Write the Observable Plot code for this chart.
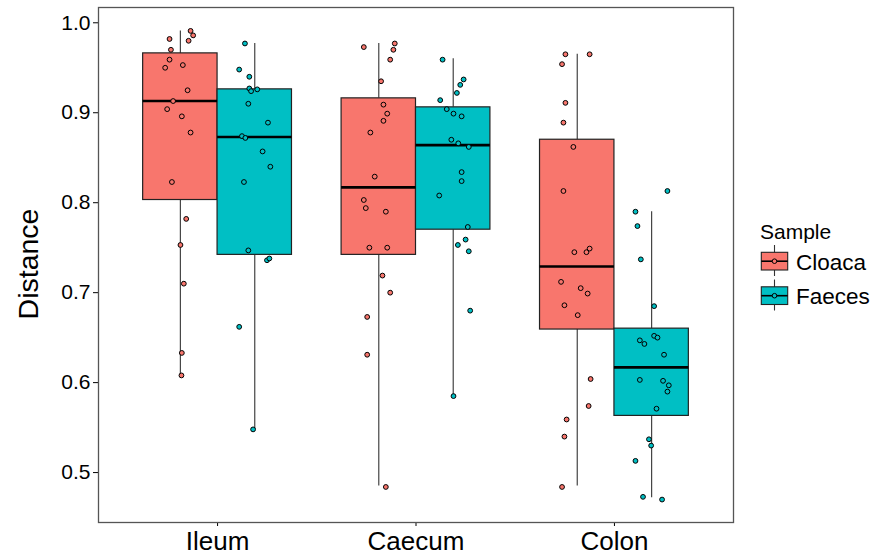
<!DOCTYPE html>
<html>
<head>
<meta charset="utf-8">
<script src="https://cdn.jsdelivr.net/npm/d3@7"></script>
<script src="https://cdn.jsdelivr.net/npm/@observablehq/plot@0.6"></script>
<style>
  html, body { margin: 0; padding: 0; background: #fff; }
  #wrap { position: relative; width: 874px; height: 559px; font-family: "Liberation Sans", Arial, sans-serif; }
  #legend { position: absolute; left: 740px; top: 210px; }
</style>
</head>
<body>
<div id="wrap">
  <div id="chart"></div>
  <svg id="legend" width="134" height="110" font-family="Liberation Sans, Arial, sans-serif"></svg>
</div>
<script>
// ---- data ----
const categories = ["Ileum", "Caecum", "Colon"];
const samples = ["Cloaca", "Faeces"];
const sampleColors = ["#F8766D", "#00BFC4"];
const yTicks = [0.5, 0.6, 0.7, 0.8, 0.9, 1.0];

// box statistics (one entry per category x sample)
const boxCategory = ["Ileum", "Ileum", "Caecum", "Caecum", "Colon", "Colon"];
const boxSample   = ["Cloaca", "Faeces", "Cloaca", "Faeces", "Cloaca", "Faeces"];
const boxLow      = [0.609, 0.548, 0.485, 0.585, 0.485, 0.472];
const boxQ1       = [0.803, 0.742, 0.742, 0.770, 0.659, 0.563];
const boxMedian   = [0.913, 0.873, 0.817, 0.864, 0.729, 0.617];
const boxQ3       = [0.966, 0.926, 0.916, 0.906, 0.870, 0.660];
const boxHigh     = [0.991, 0.977, 0.977, 0.960, 0.965, 0.790];

// jittered points: values and horizontal offsets (category units from category centre)
const ileumCloacaY = [0.982, 0.991, 0.986, 0.980, 0.970, 0.959, 0.950, 0.953, 0.925, 0.913, 0.904, 0.896, 0.878, 0.823, 0.782, 0.753, 0.710, 0.633, 0.608];
const ileumCloacaX = [-0.242, -0.136, -0.123, -0.146, -0.235, -0.242, -0.264, -0.175, -0.151, -0.224, -0.254, -0.180, -0.136, -0.230, -0.158, -0.187, -0.170, -0.180, -0.182];
const ileumFaecesY = [0.977, 0.948, 0.940, 0.927, 0.924, 0.926, 0.910, 0.889, 0.874, 0.872, 0.857, 0.840, 0.823, 0.747, 0.736, 0.738, 0.662, 0.548];
const ileumFaecesX = [0.138, 0.109, 0.160, 0.160, 0.169, 0.200, 0.155, 0.254, 0.123, 0.140, 0.227, 0.266, 0.133, 0.155, 0.249, 0.261, 0.109, 0.179];
const caecumCloacaY = [0.973, 0.977, 0.970, 0.959, 0.935, 0.909, 0.899, 0.891, 0.878, 0.829, 0.803, 0.794, 0.790, 0.750, 0.750, 0.719, 0.700, 0.673, 0.631, 0.484];
const caecumCloacaX = [-0.263, -0.107, -0.114, -0.130, -0.176, -0.164, -0.145, -0.164, -0.230, -0.208, -0.263, -0.253, -0.152, -0.235, -0.145, -0.169, -0.130, -0.246, -0.246, -0.152];
const caecumFaecesY = [0.959, 0.937, 0.931, 0.922, 0.914, 0.904, 0.899, 0.896, 0.870, 0.866, 0.862, 0.834, 0.824, 0.808, 0.773, 0.759, 0.753, 0.746, 0.680, 0.585];
const caecumFaecesX = [0.134, 0.240, 0.223, 0.206, 0.122, 0.155, 0.189, 0.230, 0.178, 0.213, 0.266, 0.230, 0.230, 0.117, 0.261, 0.250, 0.211, 0.266, 0.273, 0.189];
const colonCloacaY = [0.965, 0.965, 0.954, 0.911, 0.889, 0.862, 0.813, 0.745, 0.745, 0.749, 0.712, 0.705, 0.699, 0.686, 0.675, 0.604, 0.574, 0.559, 0.540, 0.484];
const colonCloacaX = [-0.247, -0.125, -0.264, -0.247, -0.257, -0.207, -0.257, -0.202, -0.141, -0.125, -0.269, -0.170, -0.135, -0.252, -0.185, -0.120, -0.130, -0.241, -0.252, -0.264];
const colonFaecesY = [0.813, 0.790, 0.774, 0.737, 0.685, 0.652, 0.650, 0.647, 0.643, 0.631, 0.603, 0.602, 0.597, 0.590, 0.571, 0.537, 0.530, 0.513, 0.473, 0.470];
const colonFaecesX = [0.267, 0.106, 0.116, 0.133, 0.200, 0.200, 0.217, 0.128, 0.151, 0.250, 0.128, 0.245, 0.274, 0.267, 0.212, 0.174, 0.185, 0.106, 0.144, 0.240];

// ---- build tables ----
const dodgeWidth = 0.75;
const half = dodgeWidth / 2;
const catPos = c => categories.indexOf(c) + 1;
const centre = (c, s) => catPos(c) + (s === samples[0] ? -half / 2 : half / 2);

const boxes = boxCategory.map((c, i) => ({
  category: c, sample: boxSample[i],
  x: centre(c, boxSample[i]),
  x1: centre(c, boxSample[i]) - half / 2,
  x2: centre(c, boxSample[i]) + half / 2,
  low: boxLow[i], q1: boxQ1[i], median: boxMedian[i], q3: boxQ3[i], high: boxHigh[i]
}));

const pointGroups = [
  ["Ileum", "Cloaca", ileumCloacaY, ileumCloacaX],
  ["Ileum", "Faeces", ileumFaecesY, ileumFaecesX],
  ["Caecum", "Cloaca", caecumCloacaY, caecumCloacaX],
  ["Caecum", "Faeces", caecumFaecesY, caecumFaecesX],
  ["Colon", "Cloaca", colonCloacaY, colonCloacaX],
  ["Colon", "Faeces", colonFaecesY, colonFaecesX]
];
const points = pointGroups.flatMap(([c, s, ys, xs]) =>
  ys.map((y, i) => ({category: c, sample: s, y, x: catPos(c) + xs[i]})));

const chart = Plot.plot({
  width: 874,
  height: 559,
  marginLeft: 98,
  marginRight: 141,
  marginTop: 7,
  marginBottom: 37,
  style: {fontFamily: "Liberation Sans, Arial, sans-serif", fontSize: "21px", color: "black", background: "white", overflow: "visible"},
  x: {domain: [0.4, 3.6], ticks: [1, 2, 3], tickFormat: d => categories[d - 1], tickSize: 4, tickPadding: 5, label: null},
  y: {domain: [0.4445, 1.017], ticks: yTicks, tickFormat: d3.format(".1f"), tickSize: 5, tickPadding: 3, label: null},
  color: {domain: samples, range: sampleColors},
  marks: [
    Plot.ruleX(boxes, {x: "x", y1: "q3", y2: "high", stroke: "#333", strokeWidth: 1.1}),
    Plot.ruleX(boxes, {x: "x", y1: "low", y2: "q1", stroke: "#333", strokeWidth: 1.1}),
    Plot.rect(boxes, {x1: "x1", x2: "x2", y1: "q1", y2: "q3", fill: "sample", stroke: "#222", strokeWidth: 1.2}),
    Plot.ruleY(boxes, {y: "median", x1: "x1", x2: "x2", stroke: "black", strokeWidth: 2.6}),
    Plot.dot(points, {x: "x", y: "y", r: 2.4, fill: "sample", stroke: "black", strokeWidth: 1}),
    Plot.frame({stroke: "#555", strokeWidth: 1.3})
  ]
});
document.getElementById("chart").appendChild(chart);

// axis text sizes
const svg = d3.select(chart);
svg.selectAll('[aria-label^="x-axis"] text').style("font-size", "26px");
svg.selectAll('[aria-label^="y-axis"] text').style("font-size", "21px");
svg.append("text")
  .attr("transform", "translate(37.5,264) rotate(-90)")
  .attr("text-anchor", "middle")
  .style("font-size", "28.5px")
  .attr("fill", "black")
  .text("Distance");

// legend
const lg = d3.select("#legend");
lg.append("text").attr("x", 20).attr("y", 28.5).attr("font-size", "21px").attr("fill", "black").text("Sample");
samples.forEach((s, i) => {
  const oy = i * 34.5;
  const col = sampleColors[i];
  lg.append("line").attr("x1", 34.5).attr("x2", 34.5).attr("y1", 35 + oy).attr("y2", 66 + oy).attr("stroke", "#333").attr("stroke-width", 1.1);
  lg.append("rect").attr("x", 21.3).attr("y", 42.3 + oy).attr("width", 26.4).attr("height", 17.7).attr("fill", col).attr("stroke", "#222").attr("stroke-width", 1.1);
  lg.append("line").attr("x1", 21.3).attr("x2", 47.7).attr("y1", 51.2 + oy).attr("y2", 51.2 + oy).attr("stroke", "black").attr("stroke-width", 1.6);
  lg.append("circle").attr("cx", 34.5).attr("cy", 51.2 + oy).attr("r", 2.3).attr("fill", col).attr("stroke", "black").attr("stroke-width", 1);
  lg.append("text").attr("x", 56).attr("y", 59.5 + oy).attr("font-size", "22.5px").attr("fill", "black").text(s);
});
</script>
</body>
</html>
